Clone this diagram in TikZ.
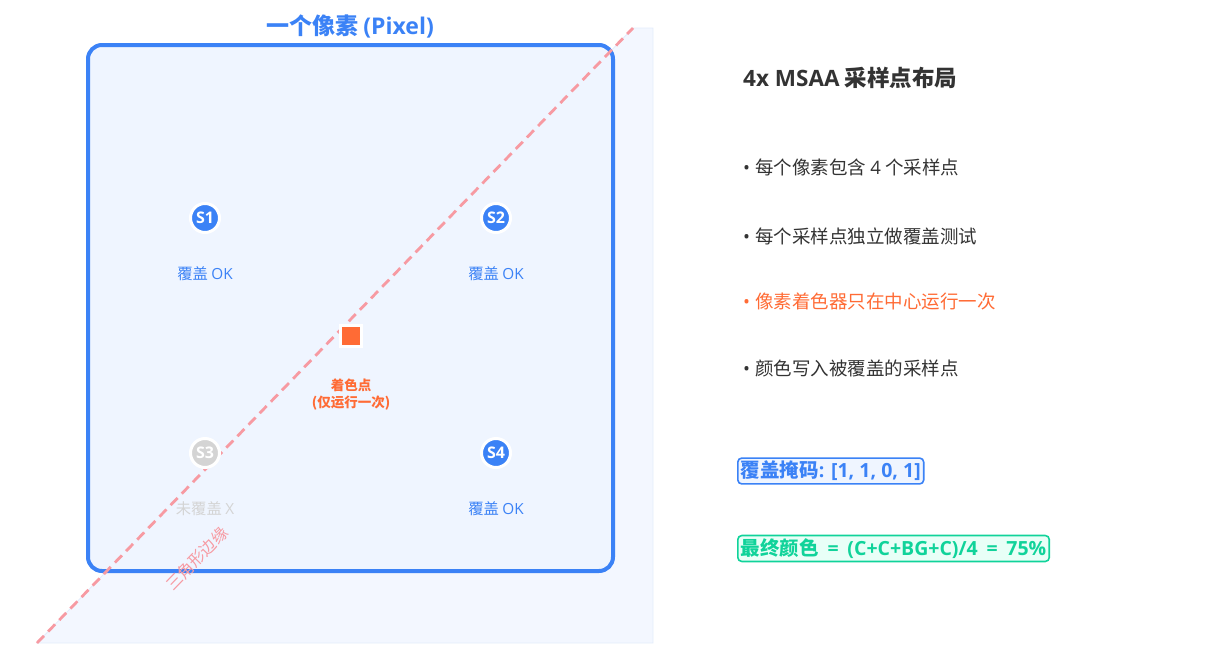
\documentclass[tikz,border=0pt]{standalone}
\usepackage{fontspec}
\setmainfont{Noto Sans CJK SC}
\newfontfamily\lat{Open Sans}
\definecolor{pblue}{HTML}{3B82F6}
\definecolor{pfill}{HTML}{EFF5FF}
\definecolor{tfill}{HTML}{F3F7FF}
\definecolor{tline}{HTML}{E3ECFB}
\definecolor{edge}{HTML}{F79AA2}
\definecolor{porange}{HTML}{FF6B35}
\definecolor{pgray}{HTML}{D4D4D4}
\definecolor{dark}{HTML}{333333}
\definecolor{pgreen}{HTML}{10D39A}
\definecolor{gfill}{HTML}{E8FFF7}
\tikzset{
  fs/.style={font=\fontsize{#1}{#1}\selectfont},
  sample/.style={circle, draw=white, line width=3pt, minimum size=29pt, inner sep=0pt, text=white, font=\fontsize{16}{16}\selectfont\bfseries\lat},
  lab/.style={fs=15.3, text=pblue, inner sep=0pt},
  bullet/.style={fs=18.5, text=dark, anchor=west, inner sep=0pt},
  tag/.style={draw, line width=1.6pt, rounded corners=4pt, inner sep=3pt, font=\fontsize{19.5}{19.5}\selectfont\bfseries, anchor=west}
}
\newcommand{\bul}{{\lat •}\hspace{5pt}}
\newcommand{\eqsp}{\hspace{0.45em}={}\hspace{0.45em}}
\begin{document}
\begin{tikzpicture}[x=1pt,y=-1pt]
\useasboundingbox (0,0) rectangle (1205,659);
% triangle region
\fill[tfill, draw=tline, line width=0.8pt] (37,643) -- (633,28) -- (653,28) -- (653,643) -- cycle;
% pixel box
\node[draw=pblue, fill=pfill, line width=4pt, rounded corners=14pt, minimum width=525pt, minimum height=526pt, inner sep=0pt] (px) at (350.5,308) {};
\node[font=\fontsize{23}{23}\selectfont\bfseries, text=pblue, inner sep=0pt] (title) at (350,26) {一个像素 {\lat (Pixel)}};
% triangle edge
\coordinate (e1) at (37,643);
\coordinate (e2) at (633,28);
\draw[edge, line width=2.8pt, dash pattern=on 10pt off 6pt] (e1) -- (e2);
\node[fs=16, text=edge, rotate=45.9, inner sep=0pt] (elab) at (197,559) {三角形边缘};
% samples
\node[sample, fill=pblue] (s1) at (205,218) {S1};
\node[sample, fill=pblue] (s2) at (496,218) {S2};
\node[sample, fill=pgray] (s3) at (205,453) {S3};
\node[sample, fill=pblue] (s4) at (496,453) {S4};
\node[lab] (l1) at (205,274) {覆盖 {\lat OK}};
\node[lab] (l2) at (496,274) {覆盖 {\lat OK}};
\node[lab, text=pgray] (l3) at (205,509) {未覆盖 {\lat X}};
\node[lab] (l4) at (496,509) {覆盖 {\lat OK}};
% shading point
\node[draw=white, fill=porange, line width=3pt, minimum size=21pt, inner sep=0pt] (sp) at (351,336) {};
\node[text=porange, font=\fontsize{13.5}{17}\selectfont\bfseries, align=center, inner sep=0pt] (spl) at (351,395) {着色点\\(仅运行一次)};
% right side
\node[font=\fontsize{22.5}{22.5}\selectfont\bfseries, text=dark, anchor=west, inner sep=0pt] (rt) at (743,78) {{\lat 4x MSAA} 采样点布局};
\node[bullet] (b1) at (743,167) {\bul 每个像素包含 {\lat 4} 个采样点};
\node[bullet] (b2) at (743,236) {\bul 每个采样点独立做覆盖测试};
\node[bullet, text=porange] (b3) at (743,301) {\bul 像素着色器只在中心运行一次};
\node[bullet] (b4) at (743,368) {\bul 颜色写入被覆盖的采样点};
\node[tag, draw=pblue, fill=pfill, text=pblue] (mask) at (737,471) {覆盖掩码{\lat : [1, 1, 0, 1]}};
\node[tag, draw=pgreen, fill=gfill, text=pgreen] (fc) at (737,548.5) {最终颜色{\lat\eqsp(C+C+BG+C)/4\eqsp 75\%}};
\end{tikzpicture}
\end{document}
